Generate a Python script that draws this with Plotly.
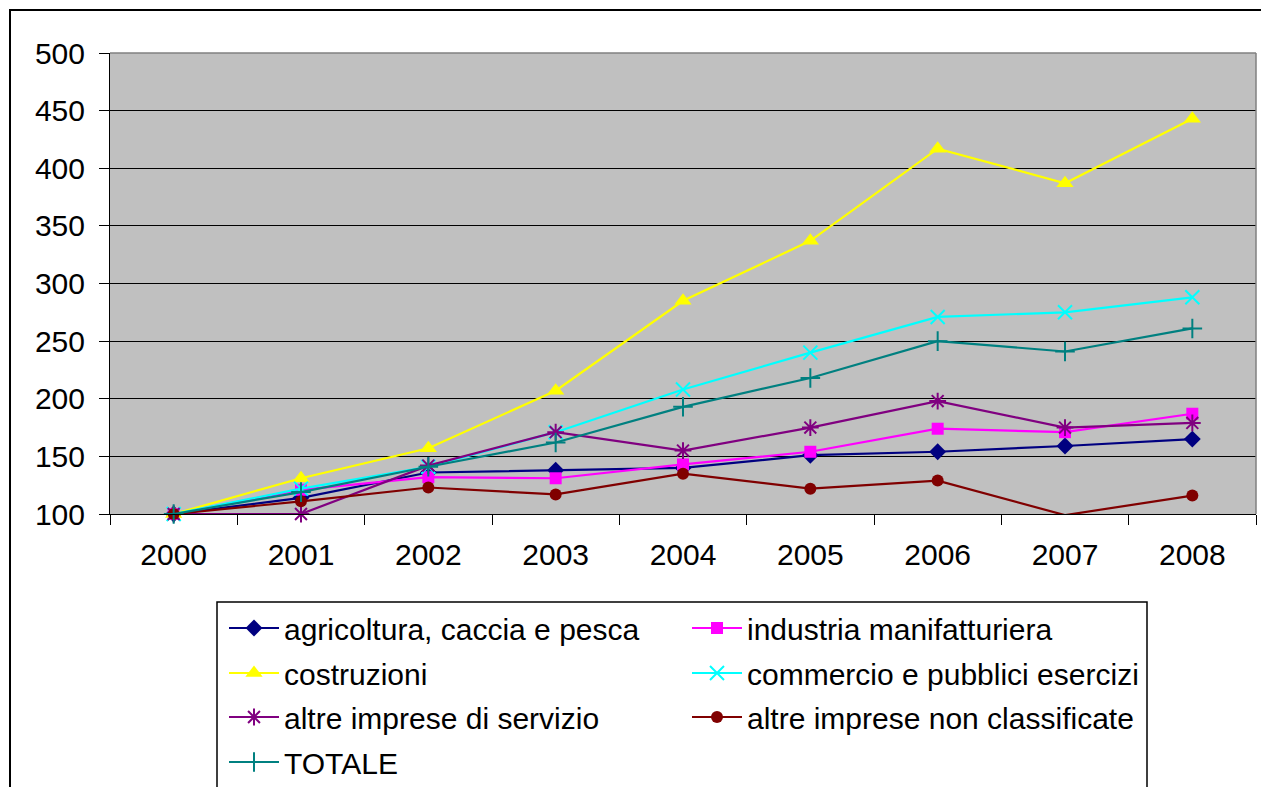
import plotly.graph_objects as go

# Index numbers (2000 = 100) by sector
years = ['2000', '2001', '2002', '2003', '2004', '2005', '2006', '2007', '2008']

agricoltura = [100, 114, 136, 138, 140, 151, 154, 159, 165]
industria = [100, 121, 132, 131, 143, 154, 174, 171, 187]
costruzioni = [100, 131, 157, 207, 285, 337, 417, 387, 443]
commercio = [100, 122, 141, 171, 208, 240, 271, 275, 288]
altre_servizio = [100, 100, 142, 171, 155, 175, 198, 175, 179]
altre_non_class = [100, 111, 123, 117, 135, 122, 129, 99, 116]
totale = [100, 119, 141, 162, 193, 218, 250, 241, 261]

series = [
    ('agricoltura, caccia e pesca', agricoltura, '#000080', 'diamond', 13, 'legend'),
    ('industria manifatturiera', industria, '#FF00FF', 'square', 12, 'legend'),
    ('costruzioni', costruzioni, '#FFFF00', 'triangle-up', 15, 'legend2'),
    ('commercio e pubblici esercizi', commercio, '#00FFFF', 'x-thin', 14, 'legend2'),
    ('altre imprese di servizio', altre_servizio, '#800080', 'asterisk', 14, 'legend3'),
    ('altre imprese non classificate', altre_non_class, '#800000', 'circle', 12, 'legend3'),
    ('TOTALE', totale, '#008080', 'cross-thin', 14, 'legend4'),
]

FIG_W, FIG_H = 1261, 787
# plot area in pixels
L, T, W, H = 110, 53, 1146, 461


def px_x(px):
    return (px - L) / W


def px_y(py):
    return (T + H - py) / H


fig = go.Figure()
for name, vals, color, symbol, size, leg in series:
    thin = symbol in ('x-thin', 'asterisk', 'cross-thin')
    fig.add_trace(go.Scatter(
        x=years, y=vals, name=name, mode='lines+markers', legend=leg,
        line=dict(color=color, width=2.2),
        marker=dict(symbol=symbol, size=size, color=color,
                    line=dict(color=color, width=2 if thin else 0)),
        cliponaxis=False,
    ))

font = dict(family='Arial, "Liberation Sans", sans-serif', size=30, color='#000000')

# one legend per row; y in container units so the rows don't push the margins
row_centers = [628, 673, 717, 762]
legends = {}
for i, key in enumerate(['legend', 'legend2', 'legend3', 'legend4']):
    legends[key] = dict(
        orientation='h', x=px_x(224), xanchor='left',
        yref='container', y=(FIG_H - row_centers[i]) / FIG_H, yanchor='middle',
        entrywidth=398, entrywidthmode='pixels', itemwidth=50,
        font=font, bgcolor='rgba(0,0,0,0)', borderwidth=0,
        tracegroupgap=0,
    )

fig.update_layout(
    width=FIG_W, height=FIG_H,
    margin=dict(l=L, r=FIG_W - L - W, t=T, b=FIG_H - T - H),
    paper_bgcolor='#FFFFFF',
    plot_bgcolor='#C0C0C0',
    font=font,
    showlegend=True,
    **legends,
    xaxis=dict(
        type='category', range=[-0.5, 8.5], tickson='boundaries',
        ticks='outside', ticklen=10, tickcolor='#000000',
        showline=True, linecolor='#000000', linewidth=1,
        showgrid=False, zeroline=False, tickfont=font,
        ticklabelstandoff=14,
    ),
    yaxis=dict(
        range=[100, 500], tick0=100, dtick=50,
        ticks='outside', ticklen=10, tickcolor='#000000',
        showline=True, linecolor='#000000', linewidth=1,
        showgrid=True, gridcolor='#000000', gridwidth=1,
        zeroline=False, tickfont=font, ticklabelstandoff=8,
    ),
    shapes=[
        # right edge of plot area
        dict(type='line', xref='paper', yref='paper', x0=1, x1=1, y0=0, y1=1,
             line=dict(color='#808080', width=1.5)),
        # top edge of plot area
        dict(type='line', xref='paper', yref='paper', x0=0, x1=1, y0=1, y1=1,
             line=dict(color='#808080', width=1.5)),
        # legend frame
        dict(type='rect', xref='paper', yref='paper',
             x0=px_x(217), x1=px_x(1147), y0=px_y(602), y1=px_y(800),
             line=dict(color='#000000', width=1.5), layer='below'),
        # chart-area frame
        dict(type='rect', xref='paper', yref='paper',
             x0=px_x(10), x1=px_x(1280), y0=px_y(10), y1=px_y(800),
             line=dict(color='#000000', width=2), layer='below'),
    ],
)

# make the figure fill the window exactly (no page margin, no overflow)
page_js = """
document.documentElement.style.overflow = 'hidden';
document.body.style.margin = '0';
document.body.style.overflow = 'hidden';
var gd = document.getElementById('{plot_id}');
gd.style.overflow = 'hidden';
"""
fig.write_html('out.html', config={'displayModeBar': False}, post_script=page_js)
